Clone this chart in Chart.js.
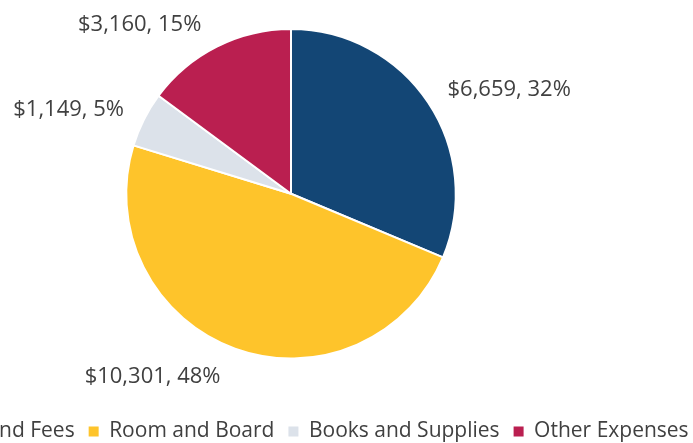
<!DOCTYPE html>
<html>
<head>
<meta charset="utf-8">
<script src="https://cdn.jsdelivr.net/npm/chart.js@4"></script>
<style>
  html, body { margin: 0; padding: 0; background: #ffffff; overflow: hidden; width: 693px; height: 443px; }
  #wrap { position: absolute; left: -169px; top: 0; width: 920px; height: 452px; }
</style>
</head>
<body>
<div id="wrap"><canvas id="c" width="920" height="452"></canvas></div>
<script>
const categories = ["Tuition and Fees", "Room and Board", "Books and Supplies", "Other Expenses"];
const costValues = [6659, 10301, 1149, 3160];
const percentLabels = [32, 48, 5, 15];
const sliceColors = ["#134675", "#FEC42B", "#DCE2EA", "#BA1F50"];

const textColor = "#404040";
const fontFamily = "'Open Sans', sans-serif";

const outsideLabels = {
  id: "outsideLabels",
  afterDatasetsDraw(chart) {
    const ctx = chart.ctx;
    const meta = chart.getDatasetMeta(0);
    ctx.save();
    ctx.font = "22px " + fontFamily;
    ctx.fillStyle = textColor;
    ctx.textBaseline = "middle";
    meta.data.forEach((arc, i) => {
      const p = arc.getProps(["x", "y", "startAngle", "endAngle", "outerRadius"], true);
      const mid = (p.startAngle + p.endAngle) / 2;
      const r = p.outerRadius + 21;
      const cx = Math.cos(mid), sy = Math.sin(mid);
      const px = p.x + cx * r;
      const py = p.y + sy * r;
      const text = "$" + costValues[i].toLocaleString("en-US") + ", " + percentLabels[i] + "%";
      const shiftX = 11 * (1 - Math.abs(cx));
      if (cx >= 0) {
        ctx.textAlign = "left";
        ctx.fillText(text, px + shiftX, py + sy * 8.5 + (1 - sy) * 2.5);
      } else {
        ctx.textAlign = "right";
        ctx.fillText(text, px - shiftX, py + sy * 8.5 + (1 - sy) * 2.5);
      }
    });
    ctx.restore();
  }
};

new Chart(document.getElementById("c"), {
  type: "pie",
  data: {
    labels: categories,
    datasets: [{
      data: costValues,
      backgroundColor: sliceColors,
      borderColor: "#ffffff",
      borderWidth: 2
    }]
  },
  options: {
    responsive: false,
    animation: false,
    layout: { padding: { top: 28, bottom: 0, left: 0, right: 0 } },
    plugins: {
      tooltip: { enabled: false },
      legend: {
        position: "bottom",
        title: { display: true, text: "", font: { size: 10, lineHeight: 1 }, padding: { top: 37.5, bottom: 0 } },
        labels: {
          boxWidth: 10,
          boxHeight: 10,
          padding: 14,
          color: textColor,
          font: { size: 21, family: fontFamily },
          generateLabels(chart) {
            const items = Chart.overrides.pie.plugins.legend.labels.generateLabels(chart);
            items.forEach(it => { it.lineWidth = 0; it.strokeStyle = it.fillStyle; });
            return items;
          }
        }
      }
    }
  },
  plugins: [outsideLabels]
});
</script>
</body>
</html>
